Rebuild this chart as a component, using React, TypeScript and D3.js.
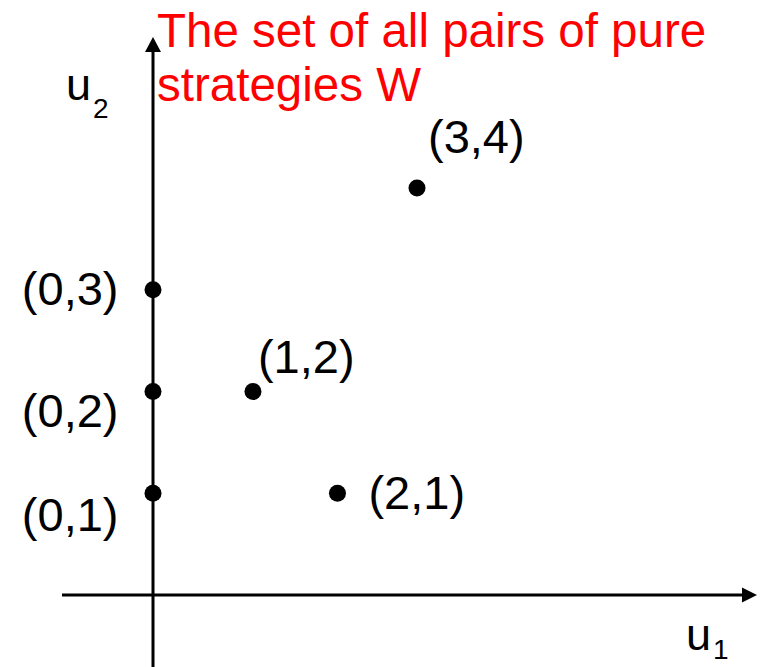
import React from "react";
import * as d3 from "d3";

// Payoff pairs (u1, u2) for every pair of pure strategies
const pointLabels = ["(0,1)", "(0,2)", "(0,3)", "(1,2)", "(2,1)", "(3,4)"];
const u1Values = [0, 0, 0, 1, 2, 3];
const u2Values = [1, 2, 3, 2, 1, 4];
const titleLines = ["The set of all pairs of pure", "strategies W"];

// Where each point's label sits relative to its dot
const labelPlacement = [
  { anchor: "end", dx: -34.5, dy: 38 },
  { anchor: "end", dx: -34.5, dy: 35 },
  { anchor: "end", dx: -34.5, dy: 15 },
  { anchor: "start", dx: 5, dy: -19 },
  { anchor: "start", dx: 31, dy: 16 },
  { anchor: "start", dx: 11, dy: -35 },
];

const W = 762;
const H = 667;
const FONT = "'Liberation Sans', Arial, Helvetica, sans-serif";

export default function App() {
  const x = d3.scalePow().exponent(0.884).domain([0, 3]).range([153, 417]);
  const y = d3.scaleLinear().domain([0, 4]).range([595, 188]);
  const x0 = x(0);
  const y0 = y(0);

  const line = d3.line();
  const yAxisPath = line([
    [x0, H],
    [x0, 50],
  ]);
  const xAxisPath = line([
    [62, y0],
    [744, y0],
  ]);
  const yArrow =
    line([
      [x0 - 8, 52],
      [x0, 37],
      [x0 + 8, 52],
    ]) + "Z";
  const xArrow =
    line([
      [742, y0 - 7.5],
      [757, y0],
      [742, y0 + 7.5],
    ]) + "Z";

  const points = u1Values.map((u1, i) => ({
    u1,
    u2: u2Values[i],
    label: pointLabels[i],
    place: labelPlacement[i],
  }));

  return (
    <svg
      width={W}
      height={H}
      viewBox={`0 0 ${W} ${H}`}
      style={{ position: "absolute", left: 0, top: 0, background: "#fff" }}
      fontFamily={FONT}
    >
      <rect width={W} height={H} fill="#fff" />

      {/* axes */}
      <path d={yAxisPath ?? ""} stroke="#000" strokeWidth={3} fill="none" />
      <path d={xAxisPath ?? ""} stroke="#000" strokeWidth={3} fill="none" />
      <path d={yArrow} fill="#000" />
      <path d={xArrow} fill="#000" />

      {/* axis names */}
      <text x={66} y={100} fontSize={45} fill="#000">
        u
        <tspan fontSize={28} dx={2} dy={18}>
          2
        </tspan>
      </text>
      <text x={686} y={650} fontSize={45} fill="#000">
        u
        <tspan fontSize={28} dx={2} dy={9}>
          1
        </tspan>
      </text>

      {/* title */}
      {titleLines.map((t, i) => (
        <text key={t} x={157} y={47 + i * 54} fontSize={47.5} fill="#ff0000">
          {t}
        </text>
      ))}

      {/* payoff points */}
      {points.map((p) => (
        <g key={p.label}>
          <circle cx={x(p.u1)} cy={y(p.u2)} r={8.5} fill="#000" />
          <text
            x={x(p.u1) + p.place.dx}
            y={y(p.u2) + p.place.dy}
            textAnchor={p.place.anchor}
            fontSize={47}
            fill="#000"
          >
            {p.label}
          </text>
        </g>
      ))}
    </svg>
  );
}
